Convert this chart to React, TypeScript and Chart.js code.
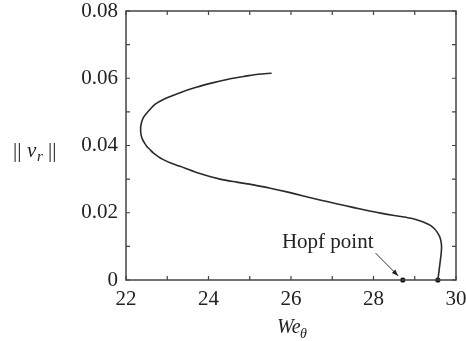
import React, { useEffect, useRef } from "react";
import { Chart, registerables } from "chart.js";

Chart.register(...registerables);

const curveX = [25.53, 25.2, 24.93, 24.5, 24.12, 23.7, 23.31, 22.905, 22.7, 22.58, 22.48, 22.42, 22.38, 22.358, 22.355, 22.358, 22.375, 22.4, 22.45, 22.5, 22.58, 22.66, 22.78, 22.905, 23.1, 23.31, 23.71, 24.28, 24.68, 25.09, 25.5, 25.9, 26.3, 26.7, 27.1, 27.5, 27.9, 28.3, 28.7, 28.96, 29.1, 29.25, 29.37, 29.47, 29.55, 29.61, 29.64, 29.65, 29.64, 29.62, 29.6, 29.58, 29.56];
const curveY = [0.0615, 0.0612, 0.0607, 0.0598, 0.0587, 0.0573, 0.0557, 0.0537, 0.0522, 0.0507, 0.0493, 0.0483, 0.047, 0.0457, 0.0447, 0.0438, 0.0427, 0.0418, 0.0407, 0.0398, 0.0388, 0.0378, 0.0367, 0.0358, 0.0347, 0.0338, 0.032, 0.03, 0.0291, 0.0283, 0.0273, 0.0262, 0.025, 0.0238, 0.0227, 0.0216, 0.0205, 0.0196, 0.0188, 0.0182, 0.0177, 0.017, 0.0163, 0.0153, 0.0141, 0.0127, 0.0112, 0.0098, 0.0078, 0.0058, 0.0038, 0.0019, 0];
const dotX = [28.71, 29.56];
const dotY = [0, 0];
const xTicks = [22, 24, 26, 28, 30];
const xMinorTicks = [23, 25, 27, 29];
const yTicks = [0, 0.02, 0.04, 0.06, 0.08];
const yMinorTicks = [0.01, 0.03, 0.05, 0.07];
const annotationText = "Hopf point";
const annotationPos = [25.78, 0.0094];
const arrowFrom = [28.05, 0.008];
const arrowTo = [28.6, 0.0012];

const SERIF = "'Liberation Serif', 'DejaVu Serif', serif";

const decorPlugin = {
  id: "decor",
  afterDraw(chart: any) {
    const ctx = chart.ctx;
    const xs = chart.scales.x;
    const ys = chart.scales.y;
    const { left, right, top, bottom } = chart.chartArea;
    ctx.save();
    // box
    ctx.strokeStyle = "#444";
    ctx.lineWidth = 1.5;
    ctx.strokeRect(left, top, right - left, bottom - top);
    // inward ticks
    ctx.lineWidth = 1.2;
    const tl = 4;
    [...xTicks, ...xMinorTicks].forEach((v) => {
      const px = xs.getPixelForValue(v);
      ctx.beginPath();
      ctx.moveTo(px, bottom);
      ctx.lineTo(px, bottom - tl);
      ctx.moveTo(px, top);
      ctx.lineTo(px, top + tl);
      ctx.stroke();
    });
    [...yTicks, ...yMinorTicks].forEach((v) => {
      const py = ys.getPixelForValue(v);
      ctx.beginPath();
      ctx.moveTo(left, py);
      ctx.lineTo(left + tl, py);
      ctx.moveTo(right, py);
      ctx.lineTo(right - tl, py);
      ctx.stroke();
    });
    // arrow
    const ax0 = xs.getPixelForValue(arrowFrom[0]);
    const ay0 = ys.getPixelForValue(arrowFrom[1]);
    const ax1 = xs.getPixelForValue(arrowTo[0]);
    const ay1 = ys.getPixelForValue(arrowTo[1]);
    ctx.strokeStyle = "#333";
    ctx.fillStyle = "#222";
    ctx.lineWidth = 1;
    ctx.beginPath();
    ctx.moveTo(ax0, ay0);
    ctx.lineTo(ax1, ay1);
    ctx.stroke();
    const ang = Math.atan2(ay1 - ay0, ax1 - ax0);
    const hl = 7;
    ctx.beginPath();
    ctx.moveTo(ax1, ay1);
    ctx.lineTo(ax1 - hl * Math.cos(ang - 0.35), ay1 - hl * Math.sin(ang - 0.35));
    ctx.lineTo(ax1 - hl * Math.cos(ang + 0.35), ay1 - hl * Math.sin(ang + 0.35));
    ctx.closePath();
    ctx.fill();
    // annotation text
    ctx.fillStyle = "#222";
    ctx.font = `21px ${SERIF}`;
    ctx.textAlign = "left";
    ctx.textBaseline = "alphabetic";
    ctx.fillText(annotationText, xs.getPixelForValue(annotationPos[0]), ys.getPixelForValue(annotationPos[1]));
    // y title || v_r ||
    ctx.font = `21px ${SERIF}`;
    ctx.fillText("||", 13, 157);
    ctx.font = `italic 21px ${SERIF}`;
    ctx.fillText("v", 27, 157);
    ctx.font = `italic 15px ${SERIF}`;
    ctx.fillText("r", 37, 161);
    ctx.font = `21px ${SERIF}`;
    ctx.fillText("||", 48, 157);
    // x title We_theta
    const cx = (left + right) / 2;
    ctx.font = `italic 20px ${SERIF}`;
    ctx.fillText("We", cx - 14, 333);
    ctx.font = `italic 14px ${SERIF}`;
    ctx.fillText("\u03b8", cx + 9, 338);
    ctx.restore();
  },
};

export default function App() {
  const ref = useRef<HTMLCanvasElement>(null);
  useEffect(() => {
    if (!ref.current) return;
    const chart = new Chart(ref.current, {
      type: "scatter",
      data: {
        datasets: [
          {
            data: curveX.map((x, i) => ({ x, y: curveY[i] })),
            showLine: true,
            borderColor: "#2a2a2a",
            borderWidth: 1.6,
            pointRadius: 0,
            tension: 0.3,
            fill: false,
          },
          {
            data: dotX.map((x, i) => ({ x, y: dotY[i] })),
            showLine: false,
            pointRadius: 2.6,
            pointBackgroundColor: "#111",
            pointBorderWidth: 0,
            clip: false as any,
          },
        ],
      },
      options: {
        animation: false,
        responsive: true,
        maintainAspectRatio: false,
        layout: { padding: { top: 11, right: 10, left: 0, bottom: 0 } },
        plugins: { legend: { display: false }, tooltip: { enabled: false } },
        scales: {
          x: {
            type: "linear",
            min: 22,
            max: 30,
            border: { display: false },
            grid: { display: false, drawTicks: false },
            ticks: {
              stepSize: 2,
              padding: 7,
              color: "#222",
              font: { family: SERIF, size: 21 },
              maxRotation: 0,
            },
            afterFit: (s: any) => {
              s.height = 61;
              s.paddingLeft = 0;
              s.paddingRight = 0;
            },
          },
          y: {
            type: "linear",
            min: 0,
            max: 0.08,
            border: { display: false },
            grid: { display: false, drawTicks: false },
            ticks: {
              stepSize: 0.02,
              padding: 8,
              color: "#222",
              font: { family: SERIF, size: 21 },
              callback: (v: any) => (Number(v) === 0 ? "0" : Number(v).toFixed(2)),
            },
            afterFit: (s: any) => {
              s.width = 126;
              s.paddingTop = 0;
              s.paddingBottom = 0;
            },
          },
        },
      },
      plugins: [decorPlugin],
    });
    return () => chart.destroy();
  }, []);
  return (
    <div style={{ position: "absolute", left: 0, top: 0, width: 466, height: 341, background: "#fff" }}>
      <canvas ref={ref} />
    </div>
  );
}
